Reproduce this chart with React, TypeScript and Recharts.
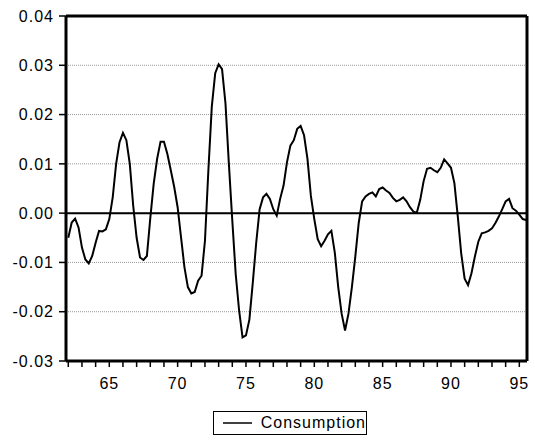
import React from 'react';
import { LineChart, Line, XAxis, YAxis, CartesianGrid, ReferenceLine, Legend } from 'recharts';

// quarterly deviations, 1962Q1 .. 1995Q3
const consumption = [
    -0.0050, -0.0019, -0.0011, -0.0029, -0.0070, -0.0094, -0.0102, -0.0087, -0.0060, -0.0036,
    -0.0037, -0.0033, -0.0012, 0.0032, 0.0100, 0.0144, 0.0163, 0.0148, 0.0100, 0.0015,
    -0.0050, -0.0090, -0.0095, -0.0087, -0.0010, 0.0060, 0.0110, 0.0145, 0.0145, 0.0120,
    0.0087, 0.0053, 0.0012, -0.0049, -0.0110, -0.0150, -0.0163, -0.0160, -0.0137, -0.0127,
    -0.0056, 0.0087, 0.0216, 0.0284, 0.0302, 0.0292, 0.0223, 0.0100, -0.0015, -0.0124,
    -0.0198, -0.0252, -0.0248, -0.0216, -0.0141, -0.0060, 0.0008, 0.0032, 0.0039, 0.0029,
    0.0008, -0.0005, 0.0029, 0.0056, 0.0103, 0.0137, 0.0148, 0.0171, 0.0177, 0.0158,
    0.0110, 0.0035, -0.0012, -0.0053, -0.0067, -0.0056, -0.0043, -0.0036, -0.0080, -0.0150,
    -0.0204, -0.0238, -0.0204, -0.0150, -0.0088, -0.0020, 0.0024, 0.0034, 0.0039, 0.0042,
    0.0034, 0.0049, 0.0052, 0.0046, 0.0041, 0.0031, 0.0024, 0.0027, 0.0032, 0.0024,
    0.0012, 0.0003, 0.0001, 0.0027, 0.0065, 0.0090, 0.0092, 0.0087, 0.0083, 0.0092,
    0.0109, 0.0101, 0.0092, 0.0061, -0.0007, -0.0082, -0.0133, -0.0146, -0.0122, -0.0088,
    -0.0058, -0.0041, -0.0039, -0.0036, -0.0031, -0.0020, -0.0007, 0.0008, 0.0024, 0.0029,
    0.0010, 0.0005, -0.0003, -0.0012, -0.0014,
];

const startYear = 62;
const years = [62, 63, 64, 65, 66, 67, 68, 69, 70, 71, 72, 73, 74, 75, 76, 77, 78, 79,
    80, 81, 82, 83, 84, 85, 86, 87, 88, 89, 90, 91, 92, 93, 94, 95];
const labeledYears = [65, 70, 75, 80, 85, 90, 95];
const yTicks = [-0.03, -0.02, -0.01, 0, 0.01, 0.02, 0.03, 0.04];

const data = consumption.map((v, i) => ({ q: i, value: v }));
const xTicks = years.map((y) => (y - startYear) * 4);

const font = 'Liberation Sans, Arial, sans-serif';
const tickStyle = { fill: '#000', fontSize: 16, fontFamily: font, letterSpacing: 1 };

const LegendBox = () => (
    <div style={{
        display: 'flex', alignItems: 'center', width: 154, height: 24, boxSizing: 'border-box',
        border: '1.5px solid #000', paddingLeft: 8.5, background: '#fff'
    }}>
        <svg width={31} height={4} style={{ display: 'block' }}>
            <line x1={0} y1={2} x2={31} y2={2} stroke="#000" strokeWidth={1.5} />
        </svg>
        <span style={{ marginLeft: 9, fontFamily: font, fontSize: 16, letterSpacing: 1, color: '#000' }}>Consumption</span>
    </div>
);

export default function App() {
    return (
        <div style={{ position: 'absolute', left: 0, top: 0, width: 535, height: 443, background: '#fff' }}>
            <LineChart width={535} height={443} data={data} margin={{ top: 16, right: 8, left: 0, bottom: 52 }}>
                <CartesianGrid vertical={false} stroke="#999" strokeDasharray="1 1" />
                <XAxis
                    type="number"
                    dataKey="q"
                    domain={[-0.67, 134.25]}
                    allowDataOverflow
                    ticks={xTicks}
                    interval={0}
                    height={30}
                    tickSize={6}
                    tickMargin={11}
                    tickFormatter={(i: number) => {
                        const y = startYear + i / 4;
                        return labeledYears.includes(y) ? String(y) : '';
                    }}
                    tick={tickStyle}
                    axisLine={{ stroke: '#000', strokeWidth: 3 }}
                    tickLine={{ stroke: '#000', strokeWidth: 1.5 }}
                />
                <YAxis
                    type="number"
                    domain={[-0.03, 0.04]}
                    allowDataOverflow
                    ticks={yTicks}
                    interval={0}
                    width={66}
                    tickSize={7}
                    tickMargin={5}
                    tickFormatter={(v: number) => v.toFixed(2)}
                    tick={tickStyle}
                    axisLine={{ stroke: '#000', strokeWidth: 3 }}
                    tickLine={{ stroke: '#000', strokeWidth: 1.5 }}
                />
                <ReferenceLine y={0.04} stroke="#000" strokeWidth={3} />
                <ReferenceLine x={134.25} stroke="#000" strokeWidth={3} />
                <ReferenceLine y={0} stroke="#000" strokeWidth={2} />
                <Line
                    type="linear"
                    dataKey="value"
                    name="Consumption"
                    stroke="#000"
                    strokeWidth={2}
                    dot={false}
                    isAnimationActive={false}
                />
                <Legend
                    verticalAlign="middle"
                    align="center"
                    content={() => <LegendBox />}
                    wrapperStyle={{ position: 'absolute', left: 213, top: 411, width: 154 }}
                />
            </LineChart>
        </div>
    );
}
